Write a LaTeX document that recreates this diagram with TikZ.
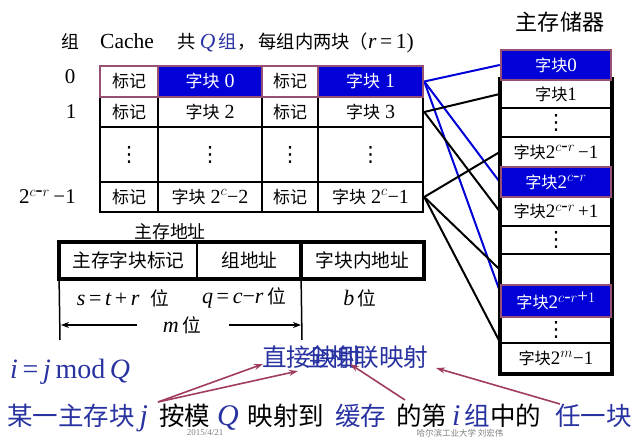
\documentclass[tikz,border=0pt]{standalone}
\usepackage{fontspec}
\setmainfont{Liberation Serif}
\newfontfamily\zh[Scale=0.85]{Noto Sans CJK SC}
\newfontfamily\sym{DejaVu Sans}
\usetikzlibrary{arrows.meta}
\pgfdeclarelayer{edgelayer}
\pgfdeclarelayer{nodelayer}
\pgfsetlayers{edgelayer,nodelayer,main}
\definecolor{blkblue}{RGB}{0,0,215}
\definecolor{mauve}{RGB}{150,80,115}
\definecolor{txtblue}{RGB}{40,50,160}
\definecolor{arrowred}{RGB}{160,60,95}
\newcommand\vi[1]{{\rmfamily\itshape #1}}
\newcommand\bl[1]{\textcolor{txtblue}{#1}}
\newcommand\dd{{\sym\fontsize{21}{21}\selectfont ⋮}}
\tikzstyle{none}=[inner sep=0pt]
\tikzstyle{cell}=[draw=black, fill=white, line width=2.5pt, inner sep=0pt, font=\fontsize{20}{20}\selectfont]
\tikzstyle{hot}=[cell, draw=mauve, fill=blkblue, text=white]
\tikzstyle{mem}=[cell, minimum width=110pt, font=\fontsize{19}{19}\selectfont]
\tikzstyle{memhot}=[mem, draw=mauve, fill=blkblue, text=white]
\tikzstyle{lbl}=[inner sep=0pt, font=\fontsize{21}{21}\selectfont]
\tikzstyle{big}=[inner sep=0pt, font=\fontsize{29}{29}\selectfont]
\tikzstyle{wire}=[line width=2pt]
\tikzstyle{pointer}=[draw=arrowred, line width=1.6pt, -{Stealth[length=9pt,width=6pt]}]

\begin{document}
\begin{tikzpicture}[x=1pt, y=-1pt]
	\useasboundingbox (0,0) rectangle (640,446);
	\begin{pgfonlayer}{nodelayer}
		% cache
		\node [style=lbl] (g) at (70, 42) {\zh 组};
		\node [style=lbl, anchor=west, font=\fontsize{21.5}{21.5}\selectfont] (title) at (100, 43) {Cache\hspace{24pt}{\zh 共}\,\bl{\vi{Q}\,{\zh 组}}{\zh ，\,每组内两块（}\vi{r}\,=\,1)};
		\node [style=lbl] (g0) at (70, 77) {0};
		\node [style=lbl] (g1) at (71, 112) {1};
		\node [style=lbl, anchor=east] (gl) at (76, 197) {2$^{c\mbox{-}r}$\,−1};
		\node [style=cell, minimum width=58pt, minimum height=30pt] (r1c1) at (129, 112) {\zh 标记};
		\node [style=cell, minimum width=104pt, minimum height=30pt] (r1c2) at (210, 112) {{\zh 字块} 2};
		\node [style=cell, minimum width=56pt, minimum height=30pt] (r1c3) at (290, 112) {\zh 标记};
		\node [style=cell, minimum width=105pt, minimum height=30pt] (r1c4) at (370.5, 112) {{\zh 字块} 3};
		\node [style=cell, minimum width=58pt, minimum height=55pt] (r2c1) at (129, 154.5) {\dd};
		\node [style=cell, minimum width=104pt, minimum height=55pt] (r2c2) at (210, 154.5) {\dd};
		\node [style=cell, minimum width=56pt, minimum height=55pt] (r2c3) at (290, 154.5) {\dd};
		\node [style=cell, minimum width=105pt, minimum height=55pt] (r2c4) at (370.5, 154.5) {\dd};
		\node [style=cell, minimum width=58pt, minimum height=30pt] (r3c1) at (129, 197) {\zh 标记};
		\node [style=cell, minimum width=104pt, minimum height=30pt] (r3c2) at (210, 197) {{\zh 字块} 2$^c$−2};
		\node [style=cell, minimum width=56pt, minimum height=30pt] (r3c3) at (290, 197) {\zh 标记};
		\node [style=cell, minimum width=105pt, minimum height=30pt] (r3c4) at (370.5, 197) {{\zh 字块} 2$^c$−1};
		\node [style=cell, draw=mauve, minimum width=58pt, minimum height=31pt] (r0c1) at (129, 81.5) {\zh 标记};
		\node [style=hot, minimum width=104pt, minimum height=31pt] (r0c2) at (210, 81.5) {{\zh 字块} 0};
		\node [style=cell, draw=mauve, minimum width=56pt, minimum height=31pt] (r0c3) at (290, 81.5) {\zh 标记};
		\node [style=hot, minimum width=105pt, minimum height=31pt] (r0c4) at (370.5, 81.5) {{\zh 字块} 1};
		% main memory
		\node [style=lbl, font=\fontsize{26}{26}\selectfont] (mmt) at (560, 22) {\zh 主存储器};
		\node [style=mem, minimum height=28pt] (m1) at (556, 94) {{\zh 字块}1};
		\node [style=mem, minimum height=29pt] (m2) at (556, 122.5) {\dd};
		\node [style=mem, minimum height=30pt] (m3) at (556, 152) {{\zh 字块}2$^{c\mbox{-}r}$\,−1};
		\node [style=mem, minimum height=29pt] (m5) at (556, 211.5) {{\zh 字块}2$^{c\mbox{-}r}$\,+1};
		\node [style=mem, minimum height=28pt] (m6) at (556, 240) {\dd};
		\node [style=mem, minimum height=31pt] (m7) at (556, 269.5) {};
		\node [style=mem, minimum height=26pt] (m9) at (556, 330) {\dd};
		\node [style=mem, minimum height=30pt] (m10) at (556, 358) {{\zh 字块}2$^m$−1};
		\draw [line width=4pt] (m1.north west) rectangle (m10.south east);
		\node [style=memhot, minimum height=30pt] (m0) at (556, 65) {{\zh 字块}0};
		\node [style=memhot, minimum height=30pt] (m4) at (556, 182) {{\zh 字块}2$^{c\mbox{-}r}$};
		\node [style=memhot, minimum height=32pt] (m8) at (556, 301) {{\zh 字块}2$^{c\mbox{-}r\mbox{+}1}$};
		% address
		\node [style=lbl] (at) at (170, 232) {\zh 主存地址};
		\node [style=cell, line width=1.8pt, font=\fontsize{22}{22}\selectfont, minimum width=137pt, minimum height=35pt] (a1) at (128.5, 260.5) {\zh 主存字块标记};
		\node [style=cell, line width=1.8pt, font=\fontsize{22}{22}\selectfont, minimum width=105pt, minimum height=35pt] (a2) at (249.5, 260.5) {\zh 组地址};
		\node [style=cell, line width=1.8pt, font=\fontsize{22}{22}\selectfont, minimum width=121pt, minimum height=35pt] (a3) at (362.5, 260.5) {\zh 字块内地址};
		\draw [line width=3.5pt] (a1.north west) rectangle (a3.south east);
		\draw [line width=3.5pt] (a3.north west) -- (a3.south west);
		\node [style=lbl, font=\fontsize{22}{22}\selectfont] (sb) at (123, 298) {\vi{s}\,=\,\vi{t}\,+\,\vi{r}\ \ {\zh 位}};
		\node [style=lbl, font=\fontsize{22}{22}\selectfont] (qb) at (244, 298) {\vi{q}\,=\,\vi{c}−\vi{r}\,{\zh 位}};
		\node [style=lbl, font=\fontsize{22}{22}\selectfont] (bb) at (360, 298) {\vi{b}\,{\zh 位}};
		\node [style=lbl, font=\fontsize{22}{22}\selectfont] (mb) at (182, 325) {\vi{m}\,{\zh 位}};
		\coordinate (l0) at (60, 340);
		\coordinate (l1) at (302, 340);
		\coordinate (ml) at (61, 325);
		\coordinate (mr) at (301, 325);
		% formulas
		\node [style=big, font=\fontsize{28}{28}\selectfont, text=txtblue, anchor=west] (mod) at (10, 372) {\vi{i}\,=\,\vi{j}\,mod\,\vi{Q}};
		\node [style=big, text=txtblue, anchor=west] (direct) at (262, 357) {\zh 直接映射};
		\node [style=big, text=txtblue, anchor=west] (full) at (305, 357) {\zh 全相联映射};
		\node [style=big, anchor=west, font=\fontsize{30}{30}\selectfont] (rule) at (7, 418) {\bl{{\zh 某一主存块}\hspace{5pt}\vi{j}}\hspace{11pt}{\zh 按模}\hspace{7pt}\bl{\vi{Q}}\hspace{9pt}{\zh 映射到}\hspace{11pt}\bl{\zh 缓存}\hspace{10pt}{\zh 的第}\hspace{5pt}\bl{\vi{i}\hspace{4pt}{\zh 组}}{\zh 中的}\hspace{14pt}\bl{\zh 任一块}};
		\node [style=none, text=gray, font=\fontsize{9}{9}\selectfont] (date) at (205, 433) {2015/4/21};
		\node [style=none, text=gray, font=\zh\fontsize{10}{10}\selectfont] (school) at (460, 433) {哈尔滨工业大学\ 刘宏伟};
		\coordinate (p1) at (158, 402);
		\coordinate (p2) at (405, 400);
		\coordinate (p3) at (560, 404);
		\coordinate (t1) at (263, 364);
		\coordinate (t2) at (298, 371);
		\coordinate (t3) at (350, 364);
		\coordinate (t4) at (436, 368);
	\end{pgfonlayer}
	\begin{pgfonlayer}{edgelayer}
		\draw [style=wire, draw=blkblue] (r0c4.east) to (m0.west);
		\draw [style=wire, draw=blkblue] (r0c4.east) to (m4.west);
		\draw [style=wire, draw=blkblue] (r0c4.east) to (m8.170);
		\draw [style=wire] (r1c4.east) to (m1.west);
		\draw [style=wire] (r1c4.east) to (m5.west);
		\draw [style=wire] (r3c4.east) to (m3.west);
		\draw [style=wire] (r3c4.east) to (m7.west);
		\draw [style=wire] (r3c4.east) to (m10.north west);
		\draw [line width=1.5pt] (a1.south west) to (l0);
		\draw [line width=1.5pt] (a3.south west) to (l1);
		\draw [line width=1.5pt, -{Stealth[length=8pt,width=6pt]}] (mb.west) ++(-26,0) to (ml);
		\draw [line width=1.5pt, -{Stealth[length=8pt,width=6pt]}] (mb.east) ++(28,0) to (mr);
	\end{pgfonlayer}
	\draw [style=pointer] (p1) to (t1);
	\draw [style=pointer] (p1) to (t2);
	\draw [style=pointer] (p2) to (t3);
	\draw [style=pointer] (p3) to (t4);
\end{tikzpicture}
\end{document}
